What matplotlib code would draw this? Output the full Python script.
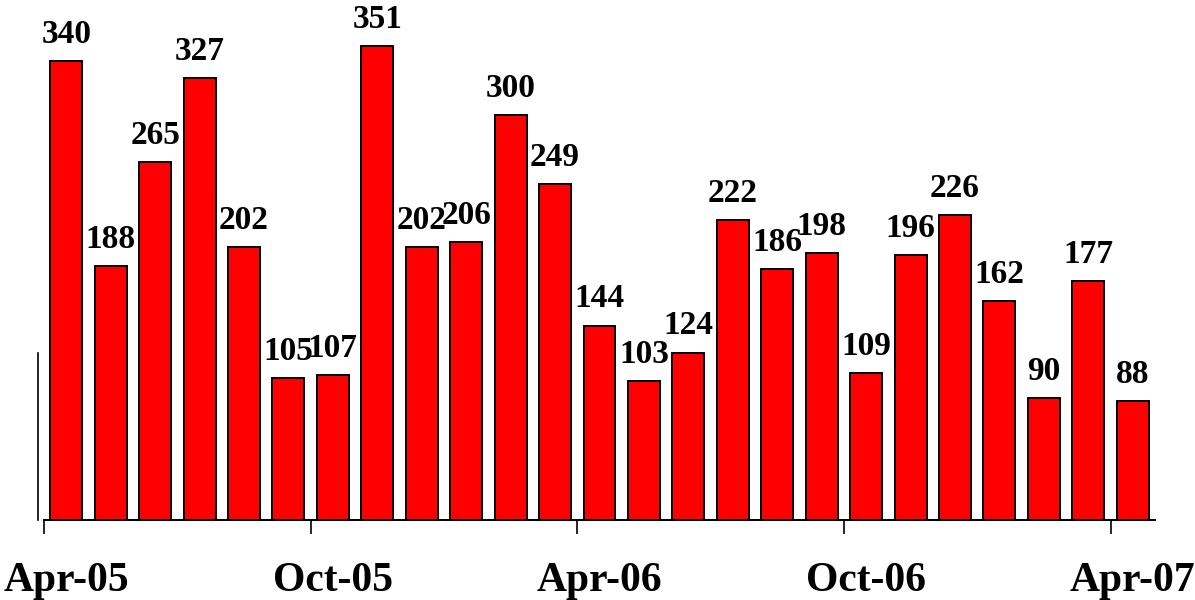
import matplotlib
matplotlib.use("Agg")
import matplotlib.pyplot as plt
from matplotlib.lines import Line2D

# monthly counts, Apr-05 .. Apr-07
counts = [340, 188, 265, 327, 202, 105, 107, 351, 202, 206, 300, 249, 144,
          103, 124, 222, 186, 198, 109, 196, 226, 162, 90, 177, 88]
tick_months = [0, 6, 12, 18, 24]
tick_labels = ["Apr-05", "Oct-05", "Apr-06", "Oct-06", "Apr-07"]

plt.rcParams['font.family'] = ['Liberation Serif', 'DejaVu Serif']

fig = plt.figure(figsize=(11.95, 6.0), dpi=100)
ax = fig.add_axes([44 / 1195, 80 / 600, (1155 - 44) / 1195, 520 / 600])

xs = [i + 0.5 for i in range(len(counts))]
bars = ax.bar(xs, counts, width=0.72, color='#ff0000', edgecolor='black', linewidth=1.4)

for x, v in zip(xs, counts):
    ax.annotate(str(v), (x, v), xytext=(0, 13), textcoords='offset points',
                ha='center', va='baseline', fontsize=24, fontweight='bold')

ax.set_xlim(0, len(counts))
ax.set_ylim(0, 385)

for s in ['top', 'right', 'left']:
    ax.spines[s].set_visible(False)
ax.spines['bottom'].set_linewidth(1.4)

# short vertical rule to the left of the plot
ax.add_line(Line2D([-0.14, -0.14], [0, 124], color='black', linewidth=1.2, clip_on=False))

ax.set_yticks([])
ax.set_xticks(tick_months)
ax.set_xticklabels([])
ax.tick_params(axis='x', which='major', direction='out', length=10, width=1.2)
ax.set_xticks([m + 0.5 for m in tick_months], minor=True)
ax.set_xticklabels(tick_labels, minor=True, fontsize=30, fontweight='bold')
ax.tick_params(axis='x', which='minor', length=0, pad=30)

fig.savefig("out.png", dpi=100)
